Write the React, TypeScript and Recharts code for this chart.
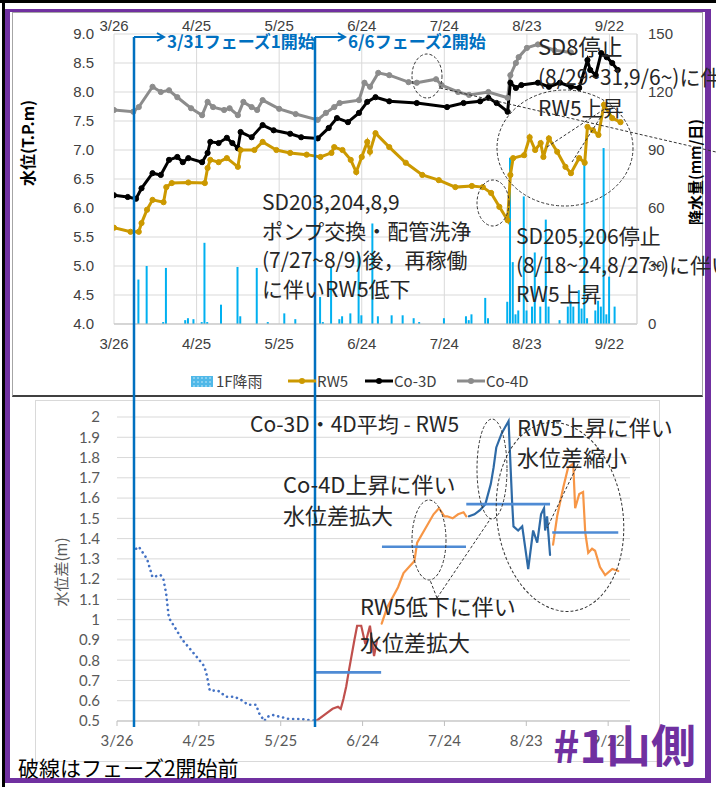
import React from "react";
import { ComposedChart, Line, Bar, XAxis, YAxis, CartesianGrid, ReferenceLine } from "recharts";

// day 0 = 3/26
const dateTicks = [0, 30, 60, 90, 120, 150, 180];
const levelTicks = [4, 4.5, 5, 5.5, 6, 6.5, 7, 7.5, 8, 8.5, 9];
const rainTicks = [0, 30, 60, 90, 120, 150];
const diffTicks = [0.5, 0.6, 0.7, 0.8, 0.9, 1, 1.1, 1.2, 1.3, 1.4, 1.5, 1.6, 1.7, 1.8, 1.9, 2];

const rain: [number, number][] = [
  [9, 23], [12, 30], [18, 1], [19, 29], [26, 2], [27, 3], [29, 2.5], [32, 1], [33, 42], [34, 1],
  [39, 10], [45, 29.5], [46, 4], [52, 29], [56, 1], [62, 5.5], [66, 2.5], [75, 14], [76, 1], [79, 29],
  [82, 2.5], [83, 4], [86, 5.5], [89, 37], [90, 4.5], [94, 52], [96, 4], [101, 4.5], [105, 4.5], [109, 3],
  [111, 1], [120, 3], [128, 4], [129, 2], [130, 5], [135, 13.5], [136, 3], [143, 11.5], [144, 86], [145, 32],
  [146, 5], [147, 7], [149, 66], [150, 7], [152, 9], [153, 37], [155, 9], [157, 54], [158, 9], [162, 2],
  [165, 9], [166, 12], [167, 9], [169, 17.5], [170, 8], [171, 85], [172, 3], [175, 7], [176, 12], [177, 9],
  [178, 91], [179, 5], [180, 24.5], [182, 9],
];

const rw5: [number, number][] = [
  [0, 5.66], [6, 5.59], [9, 5.59], [10, 5.74], [12, 5.97], [14, 6.14], [18, 6.1], [19, 6.36], [21, 6.43], [27, 6.44],
  [33, 6.43], [34, 6.69], [35, 6.83], [38, 6.79], [41, 6.86], [45, 6.71], [46, 7.0], [51, 7.0], [54, 7.14], [59, 7.0],
  [64, 6.95], [70, 6.92], [75, 6.88], [79, 6.95], [80, 7.05], [83, 7.0], [86, 6.83], [88, 6.62], [90, 6.88], [92, 7.14],
  [93, 6.97], [95, 7.29], [100, 7.05], [106, 6.78], [112, 6.57], [118, 6.48], [124, 6.36], [130, 6.38], [134, 6.36], [137, 6.26],
  [140, 6.02], [143, 5.79], [144, 6.57], [145, 6.86], [149, 6.91], [151, 7.22], [153, 7.0], [155, 7.12], [156, 6.88], [158, 7.2],
  [161, 6.97], [164, 6.71], [166, 6.6], [169, 6.86], [171, 6.78], [172, 7.4], [174, 7.34], [176, 7.26], [178, 7.78], [181, 7.55],
  [184, 7.48],
];

const co3d: [number, number][] = [
  [0, 6.22], [5, 6.19], [8, 6.16], [10, 6.34], [14, 6.6], [17, 6.57], [20, 6.83], [23, 6.88], [25, 6.79], [27, 6.86],
  [32, 6.79], [34, 6.95], [35, 7.14], [38, 7.12], [41, 7.21], [43, 7.12], [45, 7.03], [46, 7.31], [50, 7.22], [54, 7.43],
  [58, 7.34], [64, 7.28], [68, 7.22], [74, 7.2], [78, 7.38], [81, 7.55], [85, 7.48], [89, 7.64], [92, 7.83], [95, 7.91],
  [100, 7.84], [110, 7.81], [121, 7.74], [127, 7.81], [133, 7.84], [136, 7.9], [139, 7.81], [143, 7.66], [144, 8.16], [146, 8.07],
  [148, 8.12], [154, 8.16], [158, 8.09], [162, 8.16], [166, 8.09], [169, 8.07], [172, 8.55], [173, 8.38], [175, 8.29], [177, 8.67],
  [179, 8.6], [181, 8.5], [183, 8.38],
];

const co4d: [number, number][] = [
  [0, 7.69], [7, 7.66], [9, 7.74], [14, 8.09], [17, 8.0], [20, 8.03], [23, 7.91], [28, 7.72], [32, 7.6], [34, 7.83],
  [36, 7.74], [40, 7.69], [42, 7.72], [45, 7.6], [47, 7.83], [50, 7.74], [52, 7.69], [54, 7.86], [60, 7.71], [66, 7.62],
  [74, 7.52], [77, 7.64], [80, 7.74], [82, 7.81], [89, 7.86], [91, 8.16], [93, 8.09], [96, 8.33], [100, 8.29], [107, 8.17],
  [110, 8.16], [117, 8.22], [119, 8.12], [125, 8.0], [129, 7.95], [136, 8.0], [143, 7.9], [144, 8.29], [146, 8.5], [147, 8.6],
  [150, 8.76], [154, 8.82], [160, 8.72], [166, 8.68],
];

// Co-3D・4D average - RW5
const diffBefore: [number, number][] = [
  [7, 1.35], [8, 1.36], [11, 1.3], [13, 1.21], [16, 1.22], [17, 1.2], [18, 1.13], [19, 1.01], [24, 0.9], [29, 0.82],
  [32, 0.77], [33, 0.72], [34, 0.65], [37, 0.65], [40, 0.62], [43, 0.62], [46, 0.6], [48, 0.58], [51, 0.58], [52, 0.54],
  [54, 0.5], [55, 0.52], [57, 0.53], [60, 0.52], [63, 0.51], [67, 0.51], [73, 0.5],
];
const diffRed: [number, number][] = [
  [73, 0.5], [76, 0.53], [79, 0.56], [81, 0.57], [82, 0.56], [83, 0.61], [84, 0.67], [85, 0.75], [87, 0.9], [88, 0.97],
  [89.5, 0.97], [91, 0.88], [92.7, 0.97], [94.2, 0.82], [95.3, 0.9],
];
const diffOrange1: [number, number][] = [
  [97, 0.98], [99, 1.06], [103, 1.16], [105, 1.23], [107, 1.26], [109, 1.29], [110, 1.38], [113, 1.45], [116, 1.52], [118, 1.55],
  [120, 1.51], [121, 1.51], [123, 1.5], [125, 1.52], [127, 1.53], [128, 1.51],
];
const diffBlue: [number, number][] = [
  [129, 1.51], [131, 1.52], [133, 1.54], [135, 1.57], [137, 1.67], [138, 1.75], [139, 1.85], [141, 1.92], [143.5, 1.98], [144.8, 1.58],
  [145.3, 1.46], [147, 1.44], [148.5, 1.46], [150.7, 1.25], [152.5, 1.44], [154, 1.38], [155.4, 1.52], [156.5, 1.55], [156.9, 1.44], [157.6, 1.51],
  [158.7, 1.32],
];
const diffOrange2: [number, number][] = [
  [159.8, 1.37], [161.3, 1.51], [163.5, 1.65], [165.3, 1.75], [167.2, 1.77], [167.9, 1.55], [169.4, 1.62], [170.8, 1.63], [171.6, 1.43], [172.7, 1.33],
  [174.1, 1.35], [175.2, 1.34], [177, 1.26], [178.9, 1.22], [181.5, 1.25], [183.7, 1.24],
];
// period means: [from, to, value]
const diffMeans: [number, number, number][] = [
  [72.6, 96.8, 0.74], [97.1, 127.9, 1.36], [128, 158.7, 1.57], [159.5, 183.7, 1.43],
];

const fmtDate = (d: number) => {
  const t = new Date(2020, 2, 26 + d);
  return `${t.getMonth() + 1}/${t.getDate()}`;
};
const toRows = (pts: [number, number][]) => pts.map(([d, v]) => ({ d, v }));
const rainRows = rain.map(([d, r]) => ({ d, rain: r }));

const jp = "'Noto Sans CJK JP', 'Noto Sans', sans-serif";
const tickTop = { fontSize: 15, fill: "#404040", fontFamily: "'Liberation Sans', Arial" } as const;
const tickBottom = { fontSize: 15, fill: "#595959", fontFamily: "Lato, 'Liberation Sans'" } as const;
const grid = "#d9d9d9";

const GOLD = "#cc9900";
const GRAY = "#8c8c8c";
const RAIN = "#00b0f0";

function LevelLine({ pts, color }: { pts: [number, number][]; color: string }) {
  return (
    <Line
      yAxisId="lv"
      data={toRows(pts)}
      dataKey="v"
      type="linear"
      stroke={color}
      strokeWidth={3}
      dot={{ r: 2.6, fill: color, stroke: color, strokeWidth: 1 }}
      isAnimationActive={false}
    />
  );
}

function TopChart() {
  return (
    <ComposedChart width={716} height={400} data={rainRows} margin={{ top: 9, right: 39, bottom: 46, left: 64 }}>
      <CartesianGrid stroke={grid} yAxisId="lv" />
      <XAxis dataKey="d" type="number" domain={[0, 190]} ticks={dateTicks} tickFormatter={fmtDate} interval={0}
        height={30} tick={tickTop} tickLine={false} tickSize={6} tickMargin={8} axisLine={{ stroke: "#bfbfbf" }}
        allowDataOverflow />
      <XAxis xAxisId="top" orientation="top" dataKey="d" type="number" domain={[0, 190]} ticks={dateTicks} interval={0}
        tickFormatter={fmtDate} height={25} tick={tickTop} tickLine={false} tickSize={0} tickMargin={3}
        axisLine={false} allowDataOverflow />
      <YAxis yAxisId="lv" domain={[4, 9]} ticks={levelTicks} tickFormatter={(v: number) => v.toFixed(1)} interval={0}
        width={50} tick={tickTop} axisLine={false} tickLine={false} tickMargin={14} />
      <YAxis yAxisId="rain" orientation="right" domain={[0, 150]} ticks={rainTicks} width={40} interval={0}
        tick={tickTop} axisLine={{ stroke: grid }} tickLine={false} tickMargin={5} />
      <Bar yAxisId="rain" dataKey="rain" fill={RAIN} barSize={2} isAnimationActive={false} />
      <LevelLine pts={co4d} color={GRAY} />
      <LevelLine pts={co3d} color="#000000" />
      <LevelLine pts={rw5} color={GOLD} />
    </ComposedChart>
  );
}

function DiffLine({ pts, color, dotted }: { pts: [number, number][]; color: string; dotted?: boolean }) {
  return (
    <Line
      data={toRows(pts)}
      dataKey="v"
      type="linear"
      stroke={color}
      strokeWidth={dotted ? 2.6 : 2.2}
      strokeDasharray={dotted ? "0.1 5" : undefined}
      strokeLinecap="round"
      dot={false}
      isAnimationActive={false}
    />
  );
}

function BottomChart() {
  return (
    <ComposedChart width={716} height={362} margin={{ top: 17, right: 86, bottom: 11, left: 67 }}>
      <CartesianGrid stroke={grid} vertical={false} />
      <XAxis dataKey="d" type="number" domain={[0, 188]} ticks={dateTicks} tickFormatter={fmtDate} interval={0}
        height={30} tick={tickBottom} tickSize={5} tickMargin={9}
        axisLine={{ stroke: "#bfbfbf" }} tickLine={{ stroke: "#bfbfbf" }} allowDataOverflow />
      <YAxis domain={[0.5, 2]} ticks={diffTicks} tickFormatter={(v: number) => String(Number(v.toFixed(1)))} interval={0}
        width={50} tick={tickBottom} axisLine={false} tickLine={false} tickMargin={11} allowDataOverflow />
      <DiffLine pts={diffBefore} color="#4472c4" dotted />
      <DiffLine pts={diffRed} color="#c0504d" />
      <DiffLine pts={diffOrange1} color="#f79646" />
      <DiffLine pts={diffBlue} color="#2e6aa6" />
      <DiffLine pts={diffOrange2} color="#f79646" />
      {diffMeans.map(([a, b, v]) => (
        <ReferenceLine key={a} segment={[{ x: a, y: v }, { x: b, y: v }]} stroke="#4f8bd4" strokeWidth={2.6} ifOverflow="visible" />
      ))}
    </ComposedChart>
  );
}

const dash = { stroke: "#333", strokeWidth: 1, strokeDasharray: "3 2", fill: "none" } as const;

function Overlay() {
  const t = (x: number, y: number, s: string, size = 21, extra: React.SVGProps<SVGTextElement> = {}) => (
    <text x={x} y={y} fontSize={size} fontFamily={jp} fill="#262626" {...extra}>{s}</text>
  );
  return (
    <svg width={716} height={787} style={{ position: "absolute", left: 0, top: 0, pointerEvents: "none" }}>
      <defs>
        <marker id="arr" markerWidth="10" markerHeight="10" refX="8" refY="5" orient="auto" markerUnits="userSpaceOnUse">
          <path d="M1,1 L8,5 L1,9" fill="none" stroke="#0070c0" strokeWidth="2" />
        </marker>
        <pattern id="hatch" width="4" height="4" patternUnits="userSpaceOnUse">
          <rect width="4" height="4" fill="#4fb8e8" />
          <circle cx="2" cy="2" r="0.8" fill="#cfeefc" />
        </pattern>
      </defs>

      {/* phase lines */}
      <line x1={134} y1={37} x2={134} y2={727} stroke="#0070c0" strokeWidth={2.5} />
      <line x1={315} y1={37} x2={315} y2={727} stroke="#0070c0" strokeWidth={2.5} />
      <line x1={134} y1={37} x2={164} y2={37} stroke="#0070c0" strokeWidth={2} markerEnd="url(#arr)" />
      <line x1={315} y1={37} x2={345} y2={37} stroke="#0070c0" strokeWidth={2} markerEnd="url(#arr)" />
      {t(167, 48, "3/31フェーズ1開始", 17, { fill: "#0070c0", fontWeight: 700 })}
      {t(348, 48, "6/6フェーズ2開始", 17, { fill: "#0070c0", fontWeight: 700 })}

      {/* axis titles */}
      <text transform="translate(34,143) rotate(-90)" textAnchor="middle" fontSize={16} fontWeight={700} fontFamily={jp} fill="#000">水位(T.P.m)</text>
      <text transform="translate(701,172) rotate(-90)" textAnchor="middle" fontSize={15} fontWeight={700} fontFamily={jp} fill="#000">降水量(mm/日)</text>
      <text transform="translate(67,572) rotate(-90)" textAnchor="middle" fontSize={15} fontFamily={jp} fill="#595959">水位差(m)</text>

      {/* legend */}
      <rect x={191} y={376} width={22} height={11} fill="url(#hatch)" />
      {t(216, 387, "1F降雨", 15, { fill: "#404040" })}
      <line x1={288} y1={381} x2={316} y2={381} stroke={GOLD} strokeWidth={3} />
      <circle cx={302} cy={381} r={3} fill={GOLD} />
      {t(317, 387, "RW5", 15, { fill: "#404040" })}
      <line x1={365} y1={381} x2={393} y2={381} stroke="#000" strokeWidth={3} />
      <circle cx={379} cy={381} r={3} fill="#000" />
      {t(394, 387, "Co-3D", 15, { fill: "#404040" })}
      <line x1={457} y1={381} x2={485} y2={381} stroke={GRAY} strokeWidth={3} />
      <circle cx={471} cy={381} r={3} fill={GRAY} />
      {t(486, 387, "Co-4D", 15, { fill: "#404040" })}

      {/* top annotations */}
      <ellipse cx={427} cy={76} rx={15} ry={22} {...dash} />
      <ellipse cx={493} cy={203} rx={16} ry={23} {...dash} />
      <ellipse cx={565} cy={148} rx={68} ry={58} {...dash} />
      <line x1={440} y1={88} x2={716} y2={152} {...dash} />
      <line x1={547} y1={147} x2={606} y2={108} {...dash} />
      <line x1={572} y1={162} x2={602} y2={115} {...dash} />
      {t(262, 210, "SD203,204,8,9")}
      {t(262, 239, "ポンプ交換・配管洗浄")}
      {t(262, 268, "(7/27~8/9)後，再稼働")}
      {t(262, 297, "に伴いRW5低下")}
      {t(516, 244, "SD205,206停止")}
      {t(516, 273, "(8/18~24,8/27~)に伴い")}
      {t(516, 302, "RW5上昇")}
      {t(538, 55, "SD8停止", 22)}
      {t(538, 85, "(8/29~31,9/6~)に伴い")}
      {t(538, 116, "RW5上昇")}

      {/* bottom annotations */}
      <ellipse cx={429} cy={540} rx={17} ry={40} {...dash} />
      <ellipse cx={492} cy={469} rx={15} ry={50} {...dash} />
      <ellipse cx={560} cy={517} rx={63} ry={95} transform="rotate(-8 560 517)" {...dash} />
      <line x1={437} y1={598} x2={491} y2={518} {...dash} />
      <line x1={437} y1={598} x2={430} y2={580} {...dash} />
      <line x1={578} y1={464} x2={547} y2={528} {...dash} />
      {t(250, 432, "Co-3D・4D平均 - RW5", 21)}
      {t(283, 493, "Co-4D上昇に伴い", 22)}
      {t(283, 524, "水位差拡大", 22)}
      {t(360, 615, "RW5低下に伴い", 22)}
      {t(360, 651, "水位差拡大", 22)}
      {t(517, 436, "RW5上昇に伴い", 22)}
      {t(517, 466, "水位差縮小", 22)}

      {t(18, 776, "破線はフェーズ2開始前", 21, { fill: "#000" })}
      {t(553, 763, "#1山側", 45, { fill: "#7030a0", fontWeight: 700 })}
    </svg>
  );
}

export default function App() {
  return (
    <div style={{ position: "absolute", left: 0, top: 0, width: 716, height: 787, overflow: "hidden", background: "#fff" }}>
      <div style={{ position: "absolute", left: 0, top: 0, width: 716, height: 3, background: "#000" }} />
      <div style={{ position: "absolute", left: 2, top: 0, width: 3, height: 787, background: "#000" }} />
      <div style={{ position: "absolute", left: 12, top: 12, width: 691, height: 385, boxSizing: "border-box", border: "1px solid #a6a6a6", borderBottom: "2px solid #404040" }} />
      <div style={{ position: "absolute", left: 35, top: 400, width: 625, height: 362, boxSizing: "border-box", border: "1px solid #d9d9d9" }} />
      <div style={{ position: "absolute", left: 0, top: 0 }}>
        <TopChart />
      </div>
      <div style={{ position: "absolute", left: 0, top: 400 }}>
        <BottomChart />
      </div>
      <div style={{ position: "absolute", left: 5, top: 9, width: 706, height: 774, boxSizing: "border-box", borderStyle: "solid", borderColor: "#7030a0", borderWidth: "3px 6px 5px 5px" }} />
      <Overlay />
    </div>
  );
}
